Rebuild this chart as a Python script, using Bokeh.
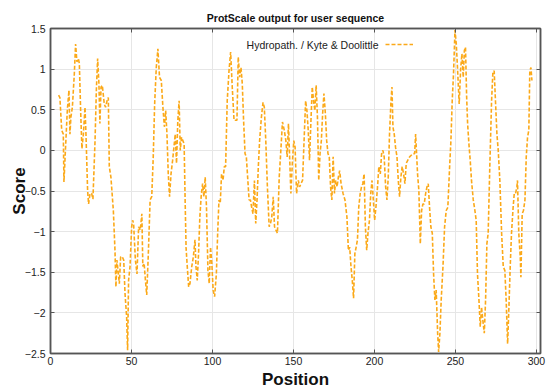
from bokeh.plotting import figure
from bokeh.models import Range1d, LinearAxis, FixedTicker, Legend, LegendItem, Label
from bokeh.embed import file_html
from bokeh.resources import INLINE

# ---- data ----
position = [
    5, 5.8, 6.9, 7.9, 8.3, 9.3, 10.4, 11.4, 12.0, 12.6, 13.5, 14.7, 15.5, 16.3, 17.2, 17.8,
    18.6, 19.4, 20.3, 21.3, 21.9, 22.9, 23.5, 24.4, 25.4, 26.2, 27.5, 28.3, 29.1, 29.9, 30.5,
    31.2, 32.0, 33.2, 34.0, 34.9, 35.7, 36.3, 37.3, 38.8, 39.8, 40.4, 41.0, 41.9, 42.5, 43.3,
    44.3, 45.2, 46.0, 47.0, 47.6, 48.2, 49.1, 50.1, 50.7,
    51.3, 52.4, 53.4, 54.4, 55.4, 56.4, 57.0, 57.8, 58.6, 59.4, 60.4, 61.5, 62.5, 63.4, 64.3,
    65.3, 66.3, 67.3, 68.4, 69.4, 70.3, 71.1, 71.9, 72.7, 73.5, 74.4, 75.4, 76.2, 77.0, 77.8,
    78.6, 79.4, 80.1, 80.9, 81.7, 82.5, 83.1, 83.7, 84.5, 85.3, 86.1, 87.2, 88.2, 89.2, 89.8,
    90.6, 91.4, 92.2, 93.0, 93.9, 94.7, 95.5, 96.3, 97.2, 98.0, 98.8, 99.6, 100.4, 101.3,
    102.4, 103.2, 104.0, 104.8, 105.6, 106.5, 107.3, 108.1, 109.1, 110.2, 111.2, 112.2, 113.3,
    114.3, 115.1, 115.9, 116.8, 117.6, 118.4, 119.2, 120.1, 120.9, 121.7, 122.6, 123.4, 124.2,
    125.0, 125.9, 126.7, 127.5, 128.3, 129.1, 130.2, 131.2, 132.0, 132.9, 133.9, 135.0, 135.8,
    136.6, 137.5, 138.3, 139.1, 140.1, 141.2, 142.2, 143.2, 144.3, 145.3, 146.1, 146.9, 147.7,
    148.4, 149.4, 150.2, 151.0, 151.9,
    153.0, 153.8, 154.6, 155.6, 156.7, 157.5, 158.3, 159.1, 159.9, 160.8, 161.6, 162.4, 163.2,
    164.0, 164.8, 165.6, 166.4, 167.2, 168.0, 168.8, 169.7, 170.5, 171.3, 172.1, 172.9, 173.7,
    174.5, 175.3, 176.1, 176.9, 177.7, 178.5, 179.4, 180.6, 181.8, 183.0, 183.9, 184.7, 185.5,
    186.3, 187.1, 187.9, 188.7, 189.5, 190.3, 191.2, 192.0, 192.8, 193.6, 194.4, 195.2, 196.0,
    196.9, 197.7, 198.5, 199.3, 200.1, 200.9,
    201.9, 202.7, 203.6, 204.4, 205.2, 206.0, 206.9, 207.7, 208.5, 209.3, 210.2, 210.8, 211.4,
    212.2, 213.0, 213.9, 214.7, 215.5, 216.3, 217.1, 218.0, 218.8, 219.6, 220.6, 221.7, 222.7,
    223.7, 224.8, 225.4, 226.0, 226.6, 227.4, 228.3, 229.1, 229.9, 230.7, 231.6, 232.4, 233.2,
    234.0, 234.8, 235.7, 236.5, 237.3, 238.1, 239.0, 239.6, 240.4, 241.2, 242.3, 243.3, 244.3,
    245.3, 246.4, 247.2, 248.0, 248.8, 249.7, 250.5, 251.3, 252.3, 253.2, 254.0, 254.8, 255.5,
    256.2, 256.9, 257.5, 258.3, 259.1, 259.9, 261.0, 262.0, 262.8, 263.6, 264.5, 265.3, 266.1,
    266.9, 267.8, 268.6, 269.4, 270.2, 271.2, 272.3, 273.1, 273.9, 274.7, 275.6, 276.4, 277.4,
    278.5, 279.5, 280.5, 281.3, 282.2, 283.0, 283.8, 284.6, 285.6, 286.3, 287.1, 287.9, 288.3,
    289.1, 290.0, 290.4, 291.2, 292.0, 292.9, 293.7, 294.5, 295.3, 295.9, 296.6, 297.2,
]
score = [
    0.68, 0.65, 0.25, 0.2, -0.39, 0.04, 0.5, 0.74, 0.2, 0.41, 0.53, 0.94, 1.31, 1.09, 1.13, 1.07,
    0.49, 0.02, 0.2, 0.53, 0.2, -0.49, -0.66, -0.53, -0.53, -0.6, 0.12, 0.74, 1.13, 0.82, 0.33,
    0.78, 0.8, 0.57, 0.53, 0.61, 0.65, -0.2, -0.33, -0.74, -1.23, -1.68, -1.35, -1.52, -1.64, -1.31,
    -1.31, -1.35, -1.76, -2.05, -2.46, -1.6, -1.43, -0.94, -0.86,
    -0.9, -1.35, -1.52, -0.94, -0.98, -0.78, -1.43, -1.39, -1.6, -1.78, -1.27, -0.61, -0.57, -0.1, 0.57,
    1.02, 1.25, 0.9, 0.86, 0.53, 0.29, 0.49, 0.2, -0.29, -0.57, -0.29, -0.12, 0.04, 0.2, -0.16,
    0.37, 0.61, 0.0, 0.16, 0.12, 0.08, -0.6, -1.2, -1.45, -1.68, -1.64, -1.43, -1.31, -1.1, -1.43,
    -1.6, -1.27, -0.82, -0.57, -0.41, -0.57, -0.33, -0.7, -1.48, -1.64, -1.19, -1.39, -1.72, -1.8,
    -1.52, -1.02, -0.61, -0.65, -0.29, -0.37, -0.2, -0.2, 0.61, 0.98, 1.21, 0.78, 0.37,
    0.37, 0.37, 1.15, 0.9, 1.02, 0.82, 0.37, -0.04, -0.08, -0.33, -0.61, -0.61, -0.7,
    -0.78, -0.37, -0.9, -0.61, -0.2, 0.12, 0.41, 0.59, 0.53, 0.12, -0.45, -0.94, -0.9,
    -0.82, -0.57, -0.94, -0.98, -1.02, -0.33, 0.0, 0.35, 0.25, 0.12, -0.08, 0.33, -0.12,
    -0.53, -0.12, 0.12, 0.04, -0.53,
    -0.37, -0.45, -0.41, -0.37, 0.2, 0.61, 0.49, 0.25, -0.12, 0.37, 0.78, 0.61, 0.49,
    0.8, 0.41, -0.37, -0.04, 0.12, 0.45, 0.7, 0.45, 0.12, -0.04, -0.08, -0.45, -0.61,
    -0.08, -0.53, -0.37, -0.45, -0.33, -0.25, -0.41, -0.53, -0.61, -0.82, -1.23, -1.19, -1.43,
    -1.6, -1.82, -1.27, -1.19, -1.1, -0.7, -0.53, -0.45, -0.41, -0.29, -0.94, -1.23, -1.02,
    -0.86, -0.53, -0.37, -0.61, -0.86, -0.7,
    -0.45, -0.2, -0.29, -0.04, 0.0, -0.08, -0.45, -0.61, -0.33, 0.2, 0.61, 0.78, 0.29,
    0.2, 0.04, -0.08, -0.37, -0.57, -0.33, -0.2, -0.29, -0.41, -0.16, -0.12, -0.08, -0.06,
    -0.04, -0.04, 0.2, -0.04, -0.29, -0.49, -1.15, -0.74, -0.66, -0.66, -0.53, -0.45, -0.41,
    -0.7, -0.94, -1.02, -1.52, -1.84, -1.72, -2.25, -2.48, -2.25, -1.84, -1.43, -0.94, -0.74,
    -0.7, -0.2, 0.12, 0.61, 0.94, 1.48, 1.31, 1.0, 0.57, 1.0, 1.19, 0.9, 1.23,
    1.27, 0.66, 0.33, 0.08, -0.12, -0.37, -0.61, -0.74, -0.86, -1.52, -1.84, -2.17, -1.93,
    -2.09, -2.25, -1.84, -1.15, -1.02, -0.2, 0.61, 0.96, 0.98, 0.61, 0.2, 0.0, -0.37,
    -1.02, -1.43, -1.48, -1.84, -2.38, -1.93, -1.43, -1.02, -0.7, -0.53, -0.53, -0.45, -0.37,
    -1.02, -1.31, -1.56, -0.78, -0.74, -0.61, -0.08, 0.16, 0.25, 0.98, 1.02, 0.86,
]

x_ticks = [0, 50, 100, 150, 200, 250, 300]
y_ticks = [-2.5, -2, -1.5, -1, -0.5, 0, 0.5, 1, 1.5]
y_tick_labels = ["\u22122.5", "\u22122", "\u22121.5", "\u22121", "\u22120.5", "0", "0.5", "1", "1.5"]
x_limits = (0, 302.5)
y_limits = (-2.5, 1.5)

title_text = "ProtScale output for user sequence"
x_label = "Position"
y_label = "Score"
series_name = "Hydropath. / Kyte & Doolittle"

# ---- styling ----
FONT = "Liberation Sans"
LINE_COLOR = "#FBA919"
FRAME_COLOR = "#555555"
TEXT_COLOR = "#222222"
GRID_COLOR = "#e6e6e6"

p = figure(
    width=550, height=391,
    output_backend="svg", toolbar_location=None,
    x_range=Range1d(*x_limits), y_range=Range1d(*y_limits),
    min_border_left=50, min_border_right=10, min_border_top=28, min_border_bottom=37,
    title=title_text, x_axis_label=x_label, y_axis_label=y_label,
)
p.background_fill_color = "white"
p.border_fill_color = "white"
p.outline_line_color = FRAME_COLOR
p.outline_line_width = 1.5

p.title.text_font = FONT
p.title.text_font_size = "10.5px"
p.title.text_font_style = "bold"
p.title.text_color = "#111111"
p.title.align = "center"
p.title.standoff = 9

# extra mirrored axes (ticks only)
p.add_layout(LinearAxis(), "above")
p.add_layout(LinearAxis(), "right")

for ax in p.xaxis:
    ax.ticker = FixedTicker(ticks=x_ticks)
for ax in p.yaxis:
    ax.ticker = FixedTicker(ticks=y_ticks)
    ax.major_label_overrides = {t: s for t, s in zip(y_ticks, y_tick_labels)}

for ax in list(p.xaxis) + list(p.yaxis):
    ax.axis_line_color = FRAME_COLOR
    ax.axis_line_width = 1.5
    ax.major_tick_line_color = FRAME_COLOR
    ax.major_tick_line_width = 1
    ax.major_tick_in = 4
    ax.major_tick_out = 0
    ax.minor_tick_line_color = None
    ax.major_label_text_font = FONT
    ax.major_label_text_font_size = "10.5px"
    ax.major_label_text_color = TEXT_COLOR
    ax.axis_label_text_font = FONT
    ax.axis_label_text_font_size = "17px"
    ax.axis_label_text_font_style = "bold"
    ax.axis_label_text_color = "#111111"

# main axes
bx = p.below[0]
bx.major_label_standoff = 3
bx.axis_label_standoff = 2
ly = p.left[0]
ly.major_label_standoff = 5
ly.axis_label_standoff = -7

# mirrored axes: hide labels
for ax in (p.above[-1], p.right[-1]):
    ax.major_label_text_font_size = "1px"
    ax.major_label_text_alpha = 0
    ax.major_label_standoff = 0

p.xgrid.ticker = FixedTicker(ticks=x_ticks)
p.ygrid.ticker = FixedTicker(ticks=y_ticks)
p.xgrid.grid_line_color = GRID_COLOR
p.ygrid.grid_line_color = GRID_COLOR

r = p.line(position, score, line_color=LINE_COLOR, line_width=1.6, line_dash="4 2")

legend = Legend(
    items=[LegendItem(label=" ", renderers=[r])],
    location=(335, 304),
    glyph_width=28, glyph_height=10,
    label_width=0, label_standoff=0, label_text_font_size="6px",
    padding=0, margin=0, spacing=0,
    border_line_color=None, background_fill_alpha=0,
)
p.add_layout(legend)

p.add_layout(Label(
    x=328, y=309, x_units="screen", y_units="screen",
    text=series_name, text_align="right", text_baseline="middle",
    text_font=FONT, text_font_size="10.5px", text_color=TEXT_COLOR,
))

open("out.html", "w").write(file_html(p, INLINE))
